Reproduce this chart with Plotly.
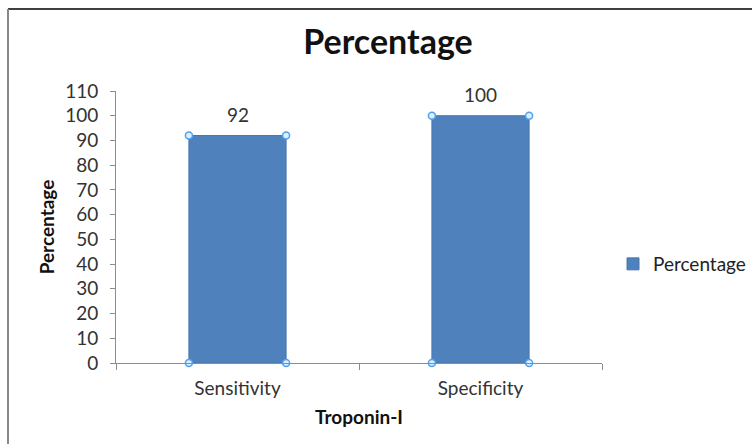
import plotly.graph_objects as go

# Troponin-I diagnostic performance
categories = ["Sensitivity", "Specificity"]
values = [92, 100]
series_name = "Percentage"
y_ticks = list(range(0, 111, 10))

bar_color = "#4F81BD"
handle_line = "#4DA3F0"
handle_fill = "#DDEEFF"
font_family = "Lato, 'Open Sans', sans-serif"
text_color = "#333333"

xpos = list(range(len(categories)))
bar_width = 0.4

fig = go.Figure()
fig.add_trace(go.Bar(
    x=xpos, y=values, width=bar_width, name=series_name,
    marker=dict(color=bar_color, line=dict(color="#4A76AD", width=1)),
    cliponaxis=False,
))

# selection handles at the bar corners
hx, hy = [], []
for i, v in zip(xpos, values):
    for dx in (-bar_width / 2, bar_width / 2):
        for yy in (0, v):
            hx.append(i + dx)
            hy.append(yy)
fig.add_trace(go.Scatter(
    x=hx, y=hy, mode="markers", showlegend=False, hoverinfo="skip",
    marker=dict(size=7, color=handle_fill, line=dict(color=handle_line, width=1.5)),
    cliponaxis=False,
))

# value labels above each bar
annotations = [
    dict(x=i, y=v, xref="x", yref="y", text=str(v), showarrow=False,
         yanchor="middle", yshift=21, font=dict(size=19, color=text_color))
    for i, v in zip(xpos, values)
]

frame_x = (8 - 116) / 486
frame_y = 1 + (91 - 9) / 272

fig.update_layout(
    width=752, height=444,
    margin=dict(l=116, r=150, t=91, b=81, autoexpand=False),
    paper_bgcolor="white", plot_bgcolor="white",
    font=dict(family=font_family, color=text_color, size=19),
    title=dict(text="<b>Percentage</b>", x=388 / 752, xref="container", xanchor="center",
               y=1 - 42 / 444, yref="container", yanchor="middle",
               font=dict(size=34, color="#111111", family=font_family)),
    showlegend=True,
    legend=dict(x=613 / 752, xref="container", xanchor="left",
                y=1 - 264 / 444, yref="container", yanchor="middle",
                font=dict(size=19, color="#222222", family=font_family),
                itemwidth=30, bgcolor="rgba(0,0,0,0)"),
    annotations=annotations,
    xaxis=dict(
        range=[-0.5, 1.5], tickvals=xpos, ticktext=categories, ticks="",
        showline=True, linecolor="#8C8C8C", linewidth=1,
        showgrid=False, zeroline=False,
        tickfont=dict(size=19, color=text_color),
        ticklabelstandoff=8,
        minor=dict(tickvals=[-0.5, 0.5, 1.5], ticks="outside", ticklen=6,
                   tickcolor="#8C8C8C", showgrid=False),
        title=dict(text="<b>Troponin-I</b>", font=dict(size=19, color="#111111"), standoff=12),
    ),
    yaxis=dict(
        range=[0, 110], tickvals=y_ticks, ticks="outside", ticklen=5,
        tickcolor="#8C8C8C", showline=True, linecolor="#8C8C8C", linewidth=1,
        showgrid=False, zeroline=False,
        tickfont=dict(size=19, color=text_color),
        ticklabelstandoff=8,
        title=dict(text="<b>Percentage</b>", font=dict(size=19, color="#111111"), standoff=5),
    ),
    shapes=[
        # chart frame
        dict(type="line", xref="paper", yref="paper",
             x0=frame_x, x1=1.5, y0=frame_y, y1=frame_y,
             line=dict(color="#404040", width=2)),
        dict(type="line", xref="paper", yref="paper",
             x0=frame_x, x1=frame_x, y0=-0.5, y1=frame_y,
             line=dict(color="#888888", width=2)),
    ],
)

fig.write_html("out.html")
